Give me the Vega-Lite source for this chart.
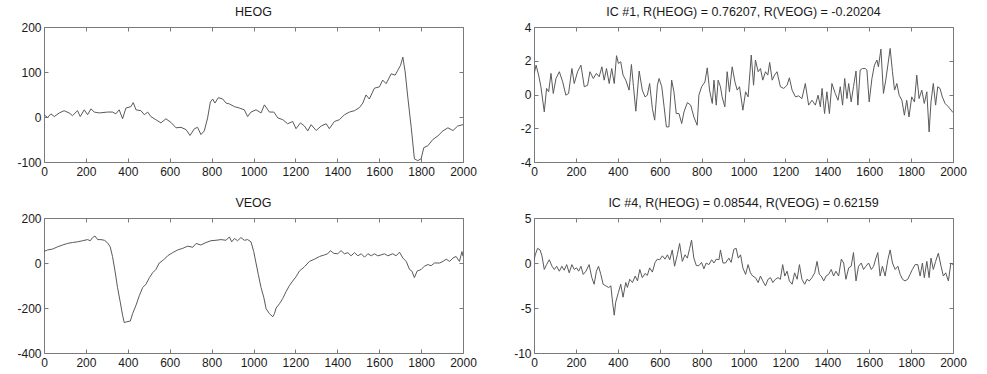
{
  "$schema": "https://vega.github.io/schema/vega-lite/v6.json",
  "background": "white",
  "padding": {"left": 16, "top": 5, "right": 5, "bottom": 5},
  "bounds": "flush",
  "columns": 2,
  "spacing": {"row": 56, "column": 71},
  "datasets": {
    "heog": [{"x":0,"y":5},{"x":17,"y":-1},{"x":33,"y":7},{"x":49,"y":1},{"x":73,"y":9},{"x":96,"y":14},{"x":120,"y":9},{"x":136,"y":3},{"x":160,"y":14},{"x":173,"y":1},{"x":192,"y":16},{"x":208,"y":5},{"x":224,"y":18},{"x":240,"y":11},{"x":264,"y":9},{"x":304,"y":11},{"x":327,"y":11},{"x":343,"y":7},{"x":359,"y":16},{"x":375,"y":-4},{"x":391,"y":20},{"x":415,"y":23},{"x":426,"y":32},{"x":439,"y":16},{"x":463,"y":14},{"x":479,"y":5},{"x":495,"y":11},{"x":510,"y":1},{"x":534,"y":-6},{"x":558,"y":-13},{"x":582,"y":-4},{"x":606,"y":-12},{"x":630,"y":-24},{"x":654,"y":-23},{"x":678,"y":-28},{"x":697,"y":-41},{"x":718,"y":-26},{"x":733,"y":-23},{"x":749,"y":-39},{"x":765,"y":-31},{"x":781,"y":-2},{"x":794,"y":33},{"x":805,"y":40},{"x":816,"y":31},{"x":832,"y":43},{"x":853,"y":40},{"x":869,"y":31},{"x":885,"y":29},{"x":909,"y":23},{"x":932,"y":20},{"x":956,"y":16},{"x":972,"y":1},{"x":988,"y":11},{"x":1012,"y":16},{"x":1036,"y":9},{"x":1052,"y":27},{"x":1076,"y":11},{"x":1097,"y":11},{"x":1116,"y":-2},{"x":1140,"y":-6},{"x":1163,"y":-15},{"x":1187,"y":-10},{"x":1203,"y":-26},{"x":1224,"y":-13},{"x":1243,"y":-20},{"x":1259,"y":-31},{"x":1275,"y":-17},{"x":1299,"y":-30},{"x":1323,"y":-20},{"x":1347,"y":-15},{"x":1362,"y":-26},{"x":1386,"y":-10},{"x":1410,"y":-6},{"x":1434,"y":5},{"x":1458,"y":11},{"x":1482,"y":14},{"x":1506,"y":21},{"x":1522,"y":31},{"x":1537,"y":49},{"x":1553,"y":40},{"x":1577,"y":64},{"x":1601,"y":67},{"x":1617,"y":82},{"x":1633,"y":74},{"x":1657,"y":96},{"x":1676,"y":93},{"x":1689,"y":104},{"x":1702,"y":115},{"x":1713,"y":133},{"x":1724,"y":100},{"x":1737,"y":42},{"x":1753,"y":-24},{"x":1768,"y":-93},{"x":1784,"y":-97},{"x":1800,"y":-93},{"x":1813,"y":-68},{"x":1832,"y":-64},{"x":1856,"y":-50},{"x":1880,"y":-42},{"x":1904,"y":-31},{"x":1928,"y":-24},{"x":1952,"y":-30},{"x":1975,"y":-20},{"x":2000,"y":-17}],
    "ic1": [{"x":0,"y":1.2},{"x":10,"y":1.74},{"x":22,"y":1.15},{"x":33,"y":0.46},{"x":49,"y":-1.03},{"x":60,"y":0.36},{"x":70,"y":0.16},{"x":81,"y":1.25},{"x":92,"y":0.06},{"x":105,"y":0.95},{"x":121,"y":1.35},{"x":137,"y":0.75},{"x":152,"y":-0.04},{"x":165,"y":0.06},{"x":181,"y":1.54},{"x":192,"y":0.65},{"x":208,"y":1.35},{"x":224,"y":1.74},{"x":240,"y":0.46},{"x":256,"y":0.55},{"x":267,"y":1.35},{"x":283,"y":0.95},{"x":298,"y":1.25},{"x":311,"y":1.05},{"x":324,"y":1.64},{"x":335,"y":0.85},{"x":346,"y":1.54},{"x":359,"y":0.65},{"x":371,"y":1.54},{"x":383,"y":0.65},{"x":394,"y":2.3},{"x":403,"y":1.84},{"x":414,"y":1.94},{"x":425,"y":1.15},{"x":438,"y":0.85},{"x":454,"y":0.26},{"x":465,"y":1.78},{"x":475,"y":0.46},{"x":486,"y":-0.99},{"x":502,"y":1.39},{"x":517,"y":0.26},{"x":530,"y":-0.14},{"x":541,"y":-0.04},{"x":552,"y":0.65},{"x":565,"y":-0.83},{"x":576,"y":-1.52},{"x":589,"y":0.55},{"x":597,"y":0.95},{"x":610,"y":0.46},{"x":621,"y":-0.73},{"x":632,"y":-1.92},{"x":644,"y":-1.92},{"x":657,"y":0.85},{"x":668,"y":0.16},{"x":679,"y":-1.13},{"x":692,"y":-1.13},{"x":705,"y":-1.72},{"x":716,"y":-1.03},{"x":732,"y":-0.48},{"x":748,"y":-0.63},{"x":763,"y":-1.33},{"x":779,"y":-1.82},{"x":787,"y":-0.04},{"x":800,"y":0.46},{"x":816,"y":0.75},{"x":827,"y":1.58},{"x":838,"y":0.26},{"x":851,"y":-0.53},{"x":859,"y":0.85},{"x":870,"y":-0.63},{"x":879,"y":0.85},{"x":890,"y":0.46},{"x":898,"y":-0.14},{"x":911,"y":-0.73},{"x":922,"y":1.35},{"x":933,"y":0.16},{"x":946,"y":1.64},{"x":959,"y":0.75},{"x":970,"y":0.26},{"x":981,"y":0.46},{"x":997,"y":-0.93},{"x":1010,"y":0.16},{"x":1022,"y":-0.14},{"x":1037,"y":2.34},{"x":1048,"y":0.55},{"x":1057,"y":2.04},{"x":1070,"y":1.35},{"x":1081,"y":1.54},{"x":1092,"y":0.85},{"x":1105,"y":1.35},{"x":1116,"y":1.15},{"x":1125,"y":1.9},{"x":1137,"y":0.85},{"x":1148,"y":1.15},{"x":1160,"y":1.35},{"x":1176,"y":0.46},{"x":1192,"y":0.36},{"x":1208,"y":0.55},{"x":1219,"y":0.99},{"x":1232,"y":0.26},{"x":1248,"y":-0.14},{"x":1263,"y":-0.08},{"x":1279,"y":-0.24},{"x":1295,"y":0.65},{"x":1311,"y":-0.63},{"x":1327,"y":-0.34},{"x":1343,"y":-0.63},{"x":1356,"y":-0.04},{"x":1367,"y":-0.73},{"x":1375,"y":0.36},{"x":1387,"y":-1.13},{"x":1398,"y":0.16},{"x":1410,"y":-1.13},{"x":1422,"y":0.65},{"x":1438,"y":0.06},{"x":1451,"y":-0.34},{"x":1462,"y":0.46},{"x":1473,"y":-0.63},{"x":1483,"y":0.95},{"x":1494,"y":-0.24},{"x":1502,"y":0.65},{"x":1514,"y":-0.44},{"x":1525,"y":0.46},{"x":1537,"y":1.39},{"x":1546,"y":-0.63},{"x":1557,"y":1.45},{"x":1568,"y":1.54},{"x":1581,"y":1.54},{"x":1589,"y":1.45},{"x":1600,"y":-0.44},{"x":1613,"y":0.95},{"x":1625,"y":1.74},{"x":1637,"y":2.04},{"x":1644,"y":1.64},{"x":1656,"y":2.69},{"x":1668,"y":0.06},{"x":1679,"y":0.85},{"x":1689,"y":1.74},{"x":1700,"y":2.73},{"x":1711,"y":1.35},{"x":1721,"y":0.26},{"x":1732,"y":0.65},{"x":1743,"y":-0.04},{"x":1756,"y":-0.34},{"x":1768,"y":-1.23},{"x":1779,"y":-0.34},{"x":1790,"y":-1.33},{"x":1803,"y":-0.14},{"x":1816,"y":-0.44},{"x":1827,"y":1.15},{"x":1838,"y":-0.24},{"x":1851,"y":0.26},{"x":1863,"y":-0.53},{"x":1875,"y":0.16},{"x":1886,"y":-2.22},{"x":1895,"y":-0.44},{"x":1906,"y":0.65},{"x":1917,"y":-0.63},{"x":1927,"y":0.46},{"x":1938,"y":0.36},{"x":1949,"y":-0.14},{"x":1962,"y":-0.53},{"x":1978,"y":-0.73},{"x":2000,"y":-1.07}],
    "veog": [{"x":0,"y":51},{"x":17,"y":58},{"x":41,"y":62},{"x":65,"y":72},{"x":89,"y":80},{"x":112,"y":87},{"x":136,"y":91},{"x":160,"y":94},{"x":184,"y":99},{"x":208,"y":104},{"x":221,"y":99},{"x":232,"y":113},{"x":243,"y":120},{"x":256,"y":104},{"x":272,"y":104},{"x":288,"y":101},{"x":303,"y":90},{"x":316,"y":72},{"x":327,"y":29},{"x":339,"y":-36},{"x":351,"y":-109},{"x":364,"y":-174},{"x":375,"y":-232},{"x":383,"y":-265},{"x":396,"y":-261},{"x":412,"y":-258},{"x":423,"y":-225},{"x":439,"y":-188},{"x":455,"y":-145},{"x":471,"y":-109},{"x":487,"y":-94},{"x":503,"y":-65},{"x":519,"y":-43},{"x":534,"y":-29},{"x":550,"y":0},{"x":571,"y":14},{"x":590,"y":32},{"x":614,"y":46},{"x":638,"y":58},{"x":662,"y":65},{"x":686,"y":75},{"x":710,"y":70},{"x":726,"y":87},{"x":749,"y":80},{"x":773,"y":91},{"x":797,"y":99},{"x":821,"y":101},{"x":845,"y":104},{"x":869,"y":101},{"x":885,"y":116},{"x":896,"y":94},{"x":909,"y":109},{"x":924,"y":99},{"x":940,"y":113},{"x":956,"y":101},{"x":972,"y":104},{"x":988,"y":94},{"x":1001,"y":51},{"x":1012,"y":0},{"x":1023,"y":-51},{"x":1036,"y":-109},{"x":1049,"y":-152},{"x":1060,"y":-203},{"x":1076,"y":-225},{"x":1092,"y":-239},{"x":1100,"y":-225},{"x":1108,"y":-200},{"x":1124,"y":-181},{"x":1140,"y":-157},{"x":1155,"y":-128},{"x":1171,"y":-101},{"x":1187,"y":-80},{"x":1203,"y":-61},{"x":1219,"y":-36},{"x":1243,"y":-17},{"x":1267,"y":7},{"x":1291,"y":17},{"x":1315,"y":29},{"x":1339,"y":36},{"x":1354,"y":41},{"x":1367,"y":55},{"x":1383,"y":43},{"x":1402,"y":41},{"x":1418,"y":55},{"x":1434,"y":41},{"x":1450,"y":46},{"x":1466,"y":32},{"x":1482,"y":46},{"x":1498,"y":32},{"x":1514,"y":41},{"x":1530,"y":26},{"x":1546,"y":41},{"x":1562,"y":32},{"x":1577,"y":41},{"x":1593,"y":32},{"x":1609,"y":36},{"x":1625,"y":41},{"x":1641,"y":32},{"x":1665,"y":41},{"x":1681,"y":32},{"x":1697,"y":48},{"x":1713,"y":22},{"x":1729,"y":7},{"x":1745,"y":-29},{"x":1756,"y":-36},{"x":1768,"y":-65},{"x":1781,"y":-36},{"x":1800,"y":-29},{"x":1816,"y":-14},{"x":1832,"y":-7},{"x":1848,"y":-12},{"x":1864,"y":0},{"x":1888,"y":0},{"x":1904,"y":7},{"x":1920,"y":17},{"x":1936,"y":7},{"x":1952,"y":22},{"x":1967,"y":29},{"x":1983,"y":7},{"x":1995,"y":51},{"x":2000,"y":30}],
    "ic4": [{"x":0,"y":0.3},{"x":6,"y":0.91},{"x":17,"y":1.63},{"x":29,"y":1.45},{"x":38,"y":0.8},{"x":49,"y":-0.72},{"x":60,"y":-0.18},{"x":73,"y":0.36},{"x":86,"y":-0.36},{"x":97,"y":-0.72},{"x":108,"y":-0.36},{"x":121,"y":-0.91},{"x":133,"y":-0.36},{"x":144,"y":-0.8},{"x":156,"y":-0.18},{"x":168,"y":-1.09},{"x":181,"y":-0.18},{"x":192,"y":-0.72},{"x":203,"y":-0.54},{"x":213,"y":-0.91},{"x":224,"y":-0.36},{"x":235,"y":-1.27},{"x":248,"y":-0.91},{"x":263,"y":-0.18},{"x":276,"y":-1.63},{"x":287,"y":-2.36},{"x":298,"y":-0.91},{"x":308,"y":-0.36},{"x":319,"y":-1.27},{"x":330,"y":-2.36},{"x":343,"y":-2.54},{"x":356,"y":-2.72},{"x":367,"y":-2.54},{"x":375,"y":-4.35},{"x":383,"y":-5.8},{"x":390,"y":-4.35},{"x":403,"y":-3.26},{"x":414,"y":-2.36},{"x":425,"y":-3.8},{"x":438,"y":-2.17},{"x":446,"y":-2.72},{"x":457,"y":-1.81},{"x":470,"y":-2.17},{"x":483,"y":-1.45},{"x":494,"y":-1.99},{"x":505,"y":-0.72},{"x":517,"y":-1.63},{"x":530,"y":-1.16},{"x":541,"y":-1.38},{"x":552,"y":-0.54},{"x":565,"y":-1.01},{"x":578,"y":0.07},{"x":589,"y":0.43},{"x":600,"y":0.36},{"x":613,"y":0.8},{"x":625,"y":0.43},{"x":637,"y":0.91},{"x":648,"y":0.36},{"x":660,"y":1.45},{"x":671,"y":-0.36},{"x":684,"y":0.91},{"x":695,"y":2.17},{"x":708,"y":0.18},{"x":721,"y":0.91},{"x":732,"y":0.54},{"x":743,"y":1.63},{"x":752,"y":2.54},{"x":763,"y":0.54},{"x":775,"y":-0.29},{"x":787,"y":-0.29},{"x":800,"y":0.07},{"x":811,"y":-0.65},{"x":822,"y":0},{"x":835,"y":-0.18},{"x":848,"y":0.36},{"x":859,"y":0},{"x":870,"y":0.43},{"x":883,"y":0.36},{"x":890,"y":1.45},{"x":902,"y":0},{"x":914,"y":0},{"x":930,"y":0.54},{"x":941,"y":0.07},{"x":954,"y":1.52},{"x":965,"y":1.63},{"x":975,"y":0.54},{"x":986,"y":0.91},{"x":997,"y":-0.54},{"x":1010,"y":-1.27},{"x":1022,"y":-0.18},{"x":1033,"y":-1.09},{"x":1044,"y":-1.45},{"x":1057,"y":-1.63},{"x":1070,"y":-2.17},{"x":1081,"y":-1.45},{"x":1092,"y":-1.99},{"x":1105,"y":-2.54},{"x":1117,"y":-1.81},{"x":1129,"y":-1.63},{"x":1140,"y":-2.17},{"x":1152,"y":-1.81},{"x":1165,"y":-1.63},{"x":1176,"y":-1.81},{"x":1187,"y":-0.18},{"x":1197,"y":-1.45},{"x":1208,"y":-0.91},{"x":1219,"y":-1.99},{"x":1232,"y":-2.36},{"x":1244,"y":-1.09},{"x":1256,"y":-1.81},{"x":1267,"y":-0.18},{"x":1279,"y":-1.81},{"x":1292,"y":-2.36},{"x":1303,"y":-1.81},{"x":1314,"y":-1.99},{"x":1327,"y":-1.63},{"x":1340,"y":-1.09},{"x":1351,"y":0.18},{"x":1362,"y":-1.27},{"x":1371,"y":-1.45},{"x":1383,"y":-1.99},{"x":1394,"y":-1.45},{"x":1406,"y":-1.27},{"x":1419,"y":-0.72},{"x":1430,"y":-1.45},{"x":1441,"y":-0.91},{"x":1454,"y":-1.45},{"x":1467,"y":0.43},{"x":1478,"y":0},{"x":1489,"y":-1.81},{"x":1502,"y":-0.54},{"x":1514,"y":-0.36},{"x":1525,"y":1.16},{"x":1537,"y":-1.99},{"x":1549,"y":-0.36},{"x":1562,"y":0},{"x":1573,"y":-0.72},{"x":1584,"y":-0.36},{"x":1597,"y":0},{"x":1610,"y":-0.72},{"x":1621,"y":-0.36},{"x":1632,"y":0.54},{"x":1641,"y":1.16},{"x":1652,"y":-1.45},{"x":1663,"y":-0.36},{"x":1676,"y":-1.45},{"x":1689,"y":0.36},{"x":1700,"y":1.45},{"x":1711,"y":0},{"x":1724,"y":-0.72},{"x":1737,"y":-0.36},{"x":1748,"y":-1.27},{"x":1759,"y":-1.81},{"x":1771,"y":-1.99},{"x":1784,"y":-1.81},{"x":1795,"y":-1.27},{"x":1806,"y":-0.72},{"x":1819,"y":-0.18},{"x":1832,"y":-0.18},{"x":1843,"y":-1.45},{"x":1854,"y":0},{"x":1863,"y":-1.63},{"x":1875,"y":0.18},{"x":1886,"y":-1.63},{"x":1895,"y":0.54},{"x":1906,"y":-0.72},{"x":1917,"y":0.18},{"x":1930,"y":1.09},{"x":1943,"y":-0.36},{"x":1954,"y":-1.45},{"x":1965,"y":-1.09},{"x":1978,"y":-1.99},{"x":1990,"y":0},{"x":2000,"y":-0.18}]
  },
  "concat": [
    {
      "title": "HEOG",
      "width": 419, "height": 135,
      "data": {"name": "heog"},
      "layer": [
        {"mark": {"type": "line", "color": "#5a5a5a", "strokeWidth": 1, "clip": true},
         "encoding": {
           "x": {"field": "x", "type": "quantitative", "title": null, "scale": {"domain": [0, 2000], "nice": false}, "axis": {"orient": "bottom", "values": [0,200,400,600,800,1000,1200,1400,1600,1800,2000]}},
           "y": {"field": "y", "type": "quantitative", "title": null, "scale": {"domain": [-100, 200], "nice": false, "zero": false}, "axis": {"orient": "left", "values": [-100,0,100,200]}}
         }},
        {"mark": {"type": "line", "opacity": 0},
         "encoding": {
           "x": {"field": "x", "type": "quantitative", "title": null, "axis": {"orient": "top", "labels": false, "values": [0,200,400,600,800,1000,1200,1400,1600,1800,2000]}},
           "y": {"field": "y", "type": "quantitative", "title": null, "axis": {"orient": "right", "labels": false, "values": [-100,0,100,200]}}
         }}
      ]
    },
    {
      "title": "IC #1, R(HEOG) = 0.76207, R(VEOG) = -0.20204",
      "width": 419, "height": 135,
      "data": {"name": "ic1"},
      "layer": [
        {"mark": {"type": "line", "color": "#5a5a5a", "strokeWidth": 1, "clip": true},
         "encoding": {
           "x": {"field": "x", "type": "quantitative", "title": null, "scale": {"domain": [0, 2000], "nice": false}, "axis": {"orient": "bottom", "values": [0,200,400,600,800,1000,1200,1400,1600,1800,2000]}},
           "y": {"field": "y", "type": "quantitative", "title": null, "scale": {"domain": [-4, 4], "nice": false, "zero": false}, "axis": {"orient": "left", "values": [-4,-2,0,2,4]}}
         }},
        {"mark": {"type": "line", "opacity": 0},
         "encoding": {
           "x": {"field": "x", "type": "quantitative", "title": null, "axis": {"orient": "top", "labels": false, "values": [0,200,400,600,800,1000,1200,1400,1600,1800,2000]}},
           "y": {"field": "y", "type": "quantitative", "title": null, "axis": {"orient": "right", "labels": false, "values": [-4,-2,0,2,4]}}
         }}
      ]
    },
    {
      "title": "VEOG",
      "width": 419, "height": 135,
      "data": {"name": "veog"},
      "layer": [
        {"mark": {"type": "line", "color": "#5a5a5a", "strokeWidth": 1, "clip": true},
         "encoding": {
           "x": {"field": "x", "type": "quantitative", "title": null, "scale": {"domain": [0, 2000], "nice": false}, "axis": {"orient": "bottom", "values": [0,200,400,600,800,1000,1200,1400,1600,1800,2000]}},
           "y": {"field": "y", "type": "quantitative", "title": null, "scale": {"domain": [-400, 200], "nice": false, "zero": false}, "axis": {"orient": "left", "values": [-400,-200,0,200]}}
         }},
        {"mark": {"type": "line", "opacity": 0},
         "encoding": {
           "x": {"field": "x", "type": "quantitative", "title": null, "axis": {"orient": "top", "labels": false, "values": [0,200,400,600,800,1000,1200,1400,1600,1800,2000]}},
           "y": {"field": "y", "type": "quantitative", "title": null, "axis": {"orient": "right", "labels": false, "values": [-400,-200,0,200]}}
         }}
      ]
    },
    {
      "title": "IC #4, R(HEOG) = 0.08544, R(VEOG) = 0.62159",
      "width": 419, "height": 135,
      "data": {"name": "ic4"},
      "layer": [
        {"mark": {"type": "line", "color": "#5a5a5a", "strokeWidth": 1, "clip": true},
         "encoding": {
           "x": {"field": "x", "type": "quantitative", "title": null, "scale": {"domain": [0, 2000], "nice": false}, "axis": {"orient": "bottom", "values": [0,200,400,600,800,1000,1200,1400,1600,1800,2000]}},
           "y": {"field": "y", "type": "quantitative", "title": null, "scale": {"domain": [-10, 5], "nice": false, "zero": false}, "axis": {"orient": "left", "values": [-10,-5,0,5]}}
         }},
        {"mark": {"type": "line", "opacity": 0},
         "encoding": {
           "x": {"field": "x", "type": "quantitative", "title": null, "axis": {"orient": "top", "labels": false, "values": [0,200,400,600,800,1000,1200,1400,1600,1800,2000]}},
           "y": {"field": "y", "type": "quantitative", "title": null, "axis": {"orient": "right", "labels": false, "values": [-10,-5,0,5]}}
         }}
      ]
    }
  ],
  "config": {
    "locale": {"number": {"decimal": ".", "thousands": "", "grouping": [3], "currency": ["$", ""], "minus": "-"}},
    "view": {"stroke": "#7a7a7a", "strokeWidth": 1},
    "title": {"font": "Liberation Sans", "fontSize": 12.5, "fontWeight": "normal", "color": "#1a1a1a", "offset": 3, "anchor": "middle"},
    "axis": {"domain": false, "grid": false, "tickSize": -4, "tickColor": "#7a7a7a", "tickWidth": 1, "labelFont": "Liberation Sans", "labelFontSize": 12, "labelColor": "#1a1a1a", "labelFlush": false, "labelOverlap": false, "title": null},
    "axisX": {"labelPadding": 8},
    "axisY": {"labelPadding": 7}
  }
}
